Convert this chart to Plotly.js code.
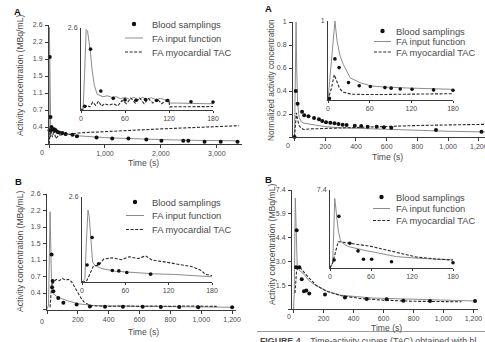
<!DOCTYPE html>
<html><head><meta charset="utf-8">
<script src="https://cdn.plot.ly/plotly-3.0.1.min.js"></script>
<style>html,body{margin:0;padding:0;background:#fff}#chart{width:485px;height:342px}</style>
</head><body><div id="chart"></div>
<script>
// ---------- DATA ----------
const seriesNames = ['Blood samplings', 'FA input function', 'FA myocardial TAC'];

// Panel A (left): full time course, activity concentration (MBq/mL)
const aL_bloodT = [10, 13, 27, 44, 60, 75, 90, 105, 120, 150, 180, 240, 300, 420, 500, 850, 1130, 1420, 1740, 2010, 2400, 2490, 2780, 3070, 3370];
const aL_bloodV = [0.3, 1.9, 0.59, 0.37, 0.32, 0.31, 0.32, 0.30, 0.30, 0.26, 0.25, 0.24, 0.22, 0.2, 0.17, 0.14, 0.12, 0.12, 0.10, 0.07, 0.07, 0.07, 0.05, 0.05, 0.05];
const aL_inputT = [0, 3, 7, 11, 15, 18, 22, 30, 45, 60, 90, 120, 180, 250, 350, 500, 700, 1000, 1400, 1800, 2200, 2600, 3000, 3400];
const aL_inputV = [0, 0.1, 2.55, 2.2, 1.3, 0.7, 0.48, 0.42, 0.4, 0.36, 0.34, 0.3, 0.27, 0.24, 0.21, 0.18, 0.16, 0.14, 0.12, 0.10, 0.09, 0.08, 0.07, 0.07];
const aL_tacT = [0, 8, 15, 25, 40, 60, 90, 120, 180, 300, 500, 800, 1200, 1600, 2000, 2400, 2800, 3200, 3400];
const aL_tacV = [0, 0.05, 0.25, 0.15, 0.3, 0.15, 0.3, 0.12, 0.2, 0.2, 0.24, 0.26, 0.29, 0.31, 0.33, 0.35, 0.37, 0.39, 0.40];
// Panel A (left) inset: first 180 s
const aLi_bloodT = [5, 13, 27, 44, 60, 75, 88, 103, 118, 150, 180];
const aLi_bloodV = [0.12, 1.93, 0.6, 0.37, 0.32, 0.31, 0.33, 0.3, 0.3, 0.26, 0.25];
const aLi_inputT = [0, 3, 5, 7, 9, 11, 13, 15, 18, 22, 26, 30, 36, 42, 48, 54, 60, 66, 72, 78, 84, 90, 96, 102, 108, 114, 120, 121, 130, 140, 150, 160, 170, 180];
const aLi_inputV = [0, 0.1, 1.2, 2.55, 2.5, 2.2, 1.8, 1.3, 0.8, 0.5, 0.45, 0.42, 0.45, 0.40, 0.42, 0.36, 0.40, 0.34, 0.40, 0.33, 0.40, 0.34, 0.39, 0.33, 0.37, 0.33, 0.34, 0.22, 0.22, 0.21, 0.21, 0.20, 0.20, 0.20];
const aLi_tacT = [0, 5, 8, 12, 16, 20, 24, 28, 32, 38, 44, 50, 56, 62, 68, 74, 80, 86, 92, 98, 104, 110, 116, 120, 121, 140, 160, 180];
const aLi_tacV = [0, 0.05, 0.15, 0.1, 0.25, 0.15, 0.28, 0.12, 0.2, 0.15, 0.2, 0.13, 0.3, 0.2, 0.38, 0.22, 0.38, 0.2, 0.36, 0.22, 0.35, 0.2, 0.3, 0.25, 0.1, 0.1, 0.11, 0.11];

// Panel A (right): normalized activity concentration
const aR_bloodT = [0, 8, 20, 49, 63, 91, 127, 159, 180, 205, 233, 260, 286, 313, 339, 392, 434, 476, 535, 582, 630, 921, 1217];
const aR_bloodV = [0.0, 0.40, 0.29, 0.22, 0.19, 0.18, 0.165, 0.154, 0.139, 0.128, 0.124, 0.119, 0.113, 0.107, 0.104, 0.098, 0.096, 0.09, 0.09, 0.084, 0.081, 0.061, 0.046];
const aR_inputT = [0, 5, 10, 14, 20, 30, 45, 60, 100, 150, 200, 300, 400, 600, 800, 1000, 1200, 1240];
const aR_inputV = [0, 0.4, 1.0, 0.6, 0.3, 0.17, 0.13, 0.12, 0.11, 0.10, 0.09, 0.08, 0.075, 0.065, 0.055, 0.05, 0.045, 0.045];
const aR_tacT = [0, 5, 12, 20, 30, 45, 60, 100, 200, 300, 400, 500, 600, 700, 800, 1000, 1200, 1240];
const aR_tacV = [0, 0.1, 0.21, 0.15, 0.1, 0.075, 0.065, 0.07, 0.075, 0.08, 0.085, 0.088, 0.09, 0.095, 0.1, 0.105, 0.11, 0.11];
const aRi_bloodT = [2, 10, 16, 29.5, 45, 61, 82, 91, 104, 121, 152, 180];
const aRi_bloodV = [0.02, 0.52, 0.41, 0.22, 0.18, 0.17, 0.157, 0.15, 0.14, 0.137, 0.128, 0.124];
const aRi_inputT = [0, 5, 10, 13, 17, 22, 32, 46, 61, 80, 100, 120, 140, 160, 180];
const aRi_inputV = [0, 0.5, 1.0, 0.75, 0.57, 0.45, 0.28, 0.22, 0.18, 0.165, 0.155, 0.15, 0.145, 0.14, 0.135];
const aRi_tacT = [0, 5, 9, 13, 17, 22, 27, 35, 50, 80, 110, 140, 180];
const aRi_tacV = [0, 0.15, 0.32, 0.22, 0.14, 0.1, 0.085, 0.075, 0.07, 0.07, 0.075, 0.078, 0.08];

// Panel B (left)
const bL_bloodT = [30, 33, 37, 41, 73, 106, 192, 278, 376, 492, 620, 738, 857, 980, 1200];
const bL_bloodV = [1.24, 0.5, 0.64, 0.41, 0.26, 0.15, 0.11, 0.07, 0.06, 0.06, 0.06, 0.055, 0.055, 0.05, 0.05];
const bL_inputT = [0, 10, 20, 25, 30, 40, 60, 90, 130, 200, 300, 400, 600, 800, 1000, 1200];
const bL_inputV = [0, 0.1, 2.2, 0.8, 0.45, 0.36, 0.3, 0.25, 0.2, 0.13, 0.09, 0.08, 0.07, 0.06, 0.055, 0.05];
const bL_tacT = [20, 30, 40, 60, 80, 100, 120, 140, 160, 180, 200, 220, 240, 260, 280, 320, 400, 500, 600, 700, 800, 900, 1000, 1100];
const bL_tacV = [0.05, 0.55, 0.6, 0.68, 0.65, 0.7, 0.66, 0.68, 0.62, 0.5, 0.36, 0.26, 0.17, 0.12, 0.09, 0.08, 0.07, 0.08, 0.07, 0.08, 0.07, 0.08, 0.07, 0.07];
const bLi_bloodT = [7, 14, 23, 42, 51, 62, 95];
const bLi_bloodV = [0.52, 1.36, 0.56, 0.35, 0.34, 0.29, 0.24];
const bLi_inputT = [0, 4, 6, 8.3, 10, 11.8, 14.7, 18, 27.7, 46, 65, 83, 100, 129, 150, 180];
const bLi_inputV = [0, 0.1, 1.2, 2.2, 2.0, 1.43, 0.61, 0.5, 0.41, 0.33, 0.3, 0.26, 0.25, 0.23, 0.2, 0.16];
const bLi_tacT = [0, 6, 10, 16, 23, 30, 42, 55, 65, 78, 88, 97, 110, 120, 138, 150, 157, 165, 171, 180];
const bLi_tacV = [0, 0.02, 0.2, 0.5, 0.51, 0.7, 0.74, 0.68, 0.77, 0.72, 0.8, 0.67, 0.63, 0.59, 0.53, 0.48, 0.43, 0.35, 0.23, 0.2];

// Panel B (right)
const bR_bloodT = [17, 21, 39, 55, 70, 85, 105, 210, 343, 488, 621, 732, 910, 1210];
const bR_bloodV = [2.6, 4.9, 2.6, 1.85, 1.1, 1.15, 0.97, 0.9, 0.72, 0.62, 0.6, 0.51, 0.5, 0.5];
const bR_inputT = [0, 5, 12, 18, 25, 40, 70, 100, 135, 220, 310, 530, 860, 1200];
const bR_inputV = [0, 1, 6.9, 4.5, 2.6, 2.4, 2.16, 1.8, 1.54, 1.13, 0.86, 0.68, 0.6, 0.5];
const bR_tacT = [10, 20, 30, 50, 100, 155, 220, 320, 450, 600, 800, 1000, 1120];
const bR_tacV = [1.0, 2.3, 2.6, 2.5, 1.96, 1.44, 1.1, 0.82, 0.65, 0.55, 0.48, 0.45, 0.45];
const bRi_bloodT = [6, 13, 29, 41, 49, 61, 90, 180];
const bRi_bloodV = [0.76, 4.9, 2.35, 1.62, 0.83, 0.83, 0.6, 0.5];
const bRi_inputT = [0, 4, 7, 9, 12, 15, 17, 22, 29, 49, 73, 97, 131, 155, 180];
const bRi_inputV = [0, 0.5, 6.6, 5.5, 3.6, 2.7, 2.45, 2.2, 2.0, 1.7, 1.4, 1.08, 0.92, 0.85, 0.76];
const bRi_tacT = [0, 4, 8, 12, 18, 29, 40, 49, 60, 83, 107, 126, 155, 180];
const bRi_tacV = [0, 0.5, 1.5, 2.5, 2.45, 2.35, 2.3, 2.2, 2.05, 1.7, 1.35, 1.05, 0.85, 0.76];

// Tick values / labels
const yTicks26 = [0, 0.3714, 0.7429, 1.1143, 1.4857, 1.8571, 2.2286, 2.6];
const yLabels26 = ['', '0.4', '0.7', '1.1', '1.5', '1.9', '2.2', '2.6'];
const yTicksNorm = [0, 0.2, 0.4, 0.6, 0.8, 1];
const yLabelsNorm = ['', '0.2', '0.4', '0.6', '0.8', '1'];
const yTicks74 = [0, 1.48, 2.96, 4.44, 5.92, 7.4];
const yLabels74 = ['', '1.5', '3.0', '4.4', '5.9', '7.4'];
const xTicksLong = [0, 1000, 2000, 3000];
const xLabelsLong = ['', '1,000', '2,000', '3,000'];
const xTicks1200 = [0, 200, 400, 600, 800, 1000, 1200];
const xLabels1200 = ['', '200', '400', '600', '800', '1,000', '1,200'];
const xTicksInset = [0, 60, 120, 180];
const xLabelsInset = ['0', '60', '120', '180'];

// ---------- LAYOUT HELPERS ----------
const W = 485, H = 342;
const fx = p => p / W;
const fy = p => 1 - p / H;
const FONT = 'Liberation Sans, Arial, sans-serif';
const TXT = '#4a4a4a';
const AX = '#3a3a3a';

const data = [];
const layout = {
  width: W, height: H, margin: {l: 0, r: 0, t: 0, b: 0},
  paper_bgcolor: '#fff', plot_bgcolor: 'rgba(0,0,0,0)',
  showlegend: false, font: {family: FONT, color: TXT},
  annotations: [], shapes: []
};

function axis(dom, range, tv, tt, anchor, isX, tl) {
  return {
    domain: dom, range: range, anchor: anchor,
    showline: true, linecolor: AX, linewidth: 1,
    ticks: 'outside', ticklen: tl, tickwidth: 1, tickcolor: AX,
    tickvals: tv, ticktext: tt, tickfont: {size: 7, color: TXT, family: FONT},
    showgrid: false, zeroline: false, fixedrange: true,
    ticklabeloverflow: 'allow',
    ticklabelstandoff: isX ? 0 : 1
  };
}

let idx = 0;
function panel(box, xr, yr, xtv, xtt, ytv, ytt, bt, bv, it, iv, tt, tv, inset) {
  idx++;
  const xn = idx === 1 ? 'x' : 'x' + idx, yn = idx === 1 ? 'y' : 'y' + idx;
  const xk = idx === 1 ? 'xaxis' : 'xaxis' + idx, yk = idx === 1 ? 'yaxis' : 'yaxis' + idx;
  const [l, r, b, t] = box;
  layout[xk] = axis([fx(l), fx(r)], xr, xtv, xtt, yn, true, inset ? 2 : 3);
  layout[yk] = axis([fy(b), fy(t)], yr, ytv, ytt, xn, false, inset ? 0 : 3);
  data.push({x: it, y: iv, xaxis: xn, yaxis: yn, mode: 'lines', name: seriesNames[1],
             line: {color: '#8c8c8c', width: 1}, hoverinfo: 'skip'});
  data.push({x: tt, y: tv, xaxis: xn, yaxis: yn, mode: 'lines', name: seriesNames[2],
             line: {color: '#2a2a2a', width: 1.1, dash: '3px,1.6px'}, hoverinfo: 'skip'});
  data.push({x: bt, y: bv, xaxis: xn, yaxis: yn, mode: 'markers', name: seriesNames[0],
             marker: {color: '#111', size: inset ? 3.6 : 4}, cliponaxis: false, hoverinfo: 'skip'});
}

// Panel A left
panel([49, 242, 144, 25], [0, 3450], [0, 2.6], xTicksLong, xLabelsLong, yTicks26, yLabels26,
      aL_bloodT, aL_bloodV, aL_inputT, aL_inputV, aL_tacT, aL_tacV, false);
panel([81, 213, 110, 28], [0, 180], [0, 2.6], xTicksInset, xLabelsInset, [2.6], ['2.6'],
      aLi_bloodT, aLi_bloodV, aLi_inputT, aLi_inputV, aLi_tacT, aLi_tacV, true);
// Panel A right
panel([293, 485, 137, 22], [-10, 1240], [0, 1], xTicks1200, xLabels1200, yTicksNorm, yLabelsNorm,
      aR_bloodT, aR_bloodV, aR_inputT, aR_inputV, aR_tacT, aR_tacV, false);
panel([328, 453, 100, 21], [0, 180], [0, 1], xTicksInset, xLabelsInset, [1], ['1'],
      aRi_bloodT, aRi_bloodV, aRi_inputT, aRi_inputV, aRi_tacT, aRi_tacV, true);
// Panel B left
panel([47, 236, 309.5, 194], [0, 1225], [0, 2.6], xTicks1200, xLabels1200, yTicks26, yLabels26,
      bL_bloodT, bL_bloodV, bL_inputT, bL_inputV, bL_tacT, bL_tacV, false);
panel([82, 212, 282, 197], [0, 180], [0, 2.6], xTicksInset, xLabelsInset, [2.6], ['2.6'],
      bLi_bloodT, bLi_bloodV, bLi_inputT, bLi_inputV, bLi_tacT, bLi_tacV, true);
// Panel B right
panel([292, 478, 309, 190], [-10, 1230], [0, 7.4], xTicks1200, xLabels1200, yTicks74, yLabels74,
      bR_bloodT, bR_bloodV, bR_inputT, bR_inputV, bR_tacT, bR_tacV, false);
panel([330, 453, 268, 190], [0, 180], [0, 7.4], xTicksInset, xLabelsInset, [7.4], ['7.4'],
      bRi_bloodT, bRi_bloodV, bRi_inputT, bRi_inputV, bRi_tacT, bRi_tacV, true);

// ---------- TEXT ----------
function ann(text, x, y, size, opts) {
  layout.annotations.push(Object.assign({
    text: text, xref: 'paper', yref: 'paper', x: fx(x), y: fy(y),
    xanchor: 'center', yanchor: 'middle', showarrow: false,
    font: {size: size, color: TXT, family: FONT}
  }, opts || {}));
}
// panel letters
ann('<b>A</b>', 17, 11, 9.5, {font: {size: 9.5, color: '#111', family: FONT}});
ann('<b>A</b>', 268, 9, 9.5, {font: {size: 9.5, color: '#111', family: FONT}});
ann('<b>B</b>', 18, 181, 9.5, {font: {size: 9.5, color: '#111', family: FONT}});
ann('<b>B</b>', 268, 179, 9.5, {font: {size: 9.5, color: '#111', family: FONT}});
// axis titles
ann('Activity concentration (MBq/mL)', 20, 76, 8.6, {textangle: -90});
ann('Time (s)', 143, 163, 8.6);
ann('Normalized activity concentration', 271, 80, 8.3, {textangle: -90});
ann('Time (s)', 387, 157, 8.6);
ann('Activity concentration (MBq/mL)', 20, 252, 8.6, {textangle: -90});
ann('Time (s)', 143, 332, 8.6);
ann('Activity concentration (MBq/mL)', 272, 245, 8.6, {textangle: -90});
ann('Time (s)', 386, 328, 8.6);
// corner zeros
ann('0', 42, 152, 7); ann('0', 288, 146, 7); ann('0', 42, 321, 7); ann('0', 289, 316, 7);

// ---------- LEGENDS (key) ----------
function legend(symL, symR, textX, rows) {
  const mid = (symL + symR) / 2;
  layout.shapes.push({type: 'circle', xref: 'paper', yref: 'paper',
    x0: fx(mid - 2.2), x1: fx(mid + 2.2), y0: fy(rows[0] + 2.2), y1: fy(rows[0] - 2.2),
    fillcolor: '#111', line: {width: 0}});
  layout.shapes.push({type: 'line', xref: 'paper', yref: 'paper',
    x0: fx(symL), x1: fx(symR), y0: fy(rows[1]), y1: fy(rows[1]), line: {color: '#8c8c8c', width: 1}});
  layout.shapes.push({type: 'line', xref: 'paper', yref: 'paper',
    x0: fx(symL), x1: fx(symR), y0: fy(rows[2]), y1: fy(rows[2]), line: {color: '#2a2a2a', width: 1.1, dash: '3px,1.6px'}});
  seriesNames.forEach((n, i) => ann(n, textX, rows[i], 9.4, {xanchor: 'left'}));
}
legend(125, 143, 150, [24, 38, 52]);
legend(374, 391, 394, [31, 41.5, 52]);
legend(126, 144, 150, [202, 215.5, 229.5]);
legend(373, 390, 394, [197, 208.5, 220.5]);

// ---------- FOOTER ----------
layout.shapes.push({type: 'line', xref: 'paper', yref: 'paper', x0: fx(257), x1: fx(485),
  y0: fy(331.5), y1: fy(331.5), line: {color: '#9a9a9a', width: 1}});
ann('<b>FIGURE 4.</b>   Time-activity curves (TAC) obtained with bl', 258, 340.5, 8.8, {xanchor: 'left'});

Plotly.newPlot('chart', data, layout, {staticPlot: true, displayModeBar: false});
</script></body></html>
